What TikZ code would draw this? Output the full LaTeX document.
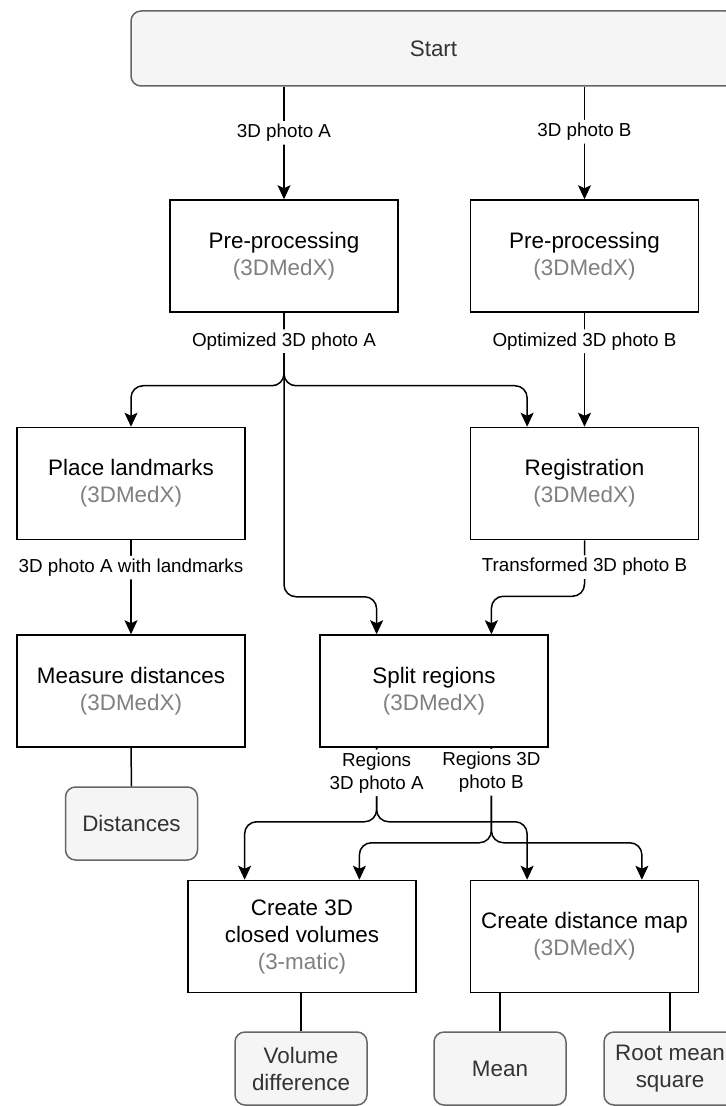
\documentclass[tikz,border=0pt]{standalone}
\usepackage{fontspec}
\setmainfont{Liberation Sans}
\usepackage{xcolor}
\usetikzlibrary{arrows.meta, positioning, calc}
\definecolor{flowgray}{HTML}{666666}
\definecolor{flowfill}{HTML}{F5F5F5}
\definecolor{flowtext}{HTML}{333333}
\definecolor{toolgray}{HTML}{808080}
\newcommand{\toolname}[1]{\textcolor{toolgray}{(#1)}}

\begin{document}
\begin{tikzpicture}[
  x=0.5pt, y=-0.5pt,
  every node/.style={font=\fontsize{11.2}{13.5}\selectfont},
  procbox/.style={rectangle, draw=black, line width=0.75pt, fill=white, minimum width=114pt, minimum height=56pt, align=center, inner sep=2pt},
  endbox/.style={rectangle, rounded corners=5pt, draw=flowgray, fill=flowfill, line width=0.75pt, minimum width=66pt, minimum height=36.5pt, align=center, text=flowtext, inner sep=2pt},
  flowarrow/.style={-{Stealth[length=7pt, width=6.5pt, inset=1.5pt]}, line width=0.75pt, rounded corners=6pt},
  flowline/.style={line width=0.75pt},
  edgelabel/.style={fill=white, inner sep=1.5pt, font=\fontsize{9.4}{11.5}\selectfont, align=center},
]
\useasboundingbox (0,0) rectangle (725,1106);

% Start
\node[endbox, minimum width=302.5pt, minimum height=37.5pt] (start) at (433.5, 48.5) {Start};

% Pre-processing
\node[procbox] (preA) at (284, 256) {Pre-processing\\\toolname{3DMedX}};
\node[procbox] (preB) at (584.5, 256) {Pre-processing\\\toolname{3DMedX}};

% Landmarks and registration
\node[procbox] (land) at (131, 483.5) {Place landmarks\\\toolname{3DMedX}};
\node[procbox] (reg) at (584.5, 483.5) {Registration\\\toolname{3DMedX}};

% Measuring and splitting
\node[procbox] (meas) at (131, 691) {Measure distances\\\toolname{3DMedX}};
\node[procbox] (split) at (434, 691) {Split regions\\\toolname{3DMedX}};
\node[endbox] (dist) at (131.5, 823.5) {Distances};

% Volumes and distance map
\node[procbox] (vol) at (302, 936.5) {Create 3D\\closed volumes\\\toolname{3-matic}};
\node[procbox] (dmap) at (584.5, 936.5) {Create distance map\\\toolname{3DMedX}};

% Results
\node[endbox] (voldiff) at (301, 1068.5) {Volume\\difference};
\node[endbox] (mean) at (500, 1068.5) {Mean};
\node[endbox] (rms) at (670, 1068.5) {Root mean\\square};

% Start to pre-processing
\draw[flowarrow] (preA |- start.south) -- node[edgelabel, pos=0.41]{3D photo A} (preA.north);
\draw[flowarrow] (preB |- start.south) -- node[edgelabel, pos=0.4]{3D photo B} (preB.north);

% Optimized photo A
\draw[flowarrow] (preA.south) -- ++(0,73) -| (land.north);
\draw[flowarrow] (preA.south) -- ++(0,73) -| ($(reg.north)!0.5!(reg.north west)$);
\draw[flowarrow] (preA.south) -- ++(0,284) node[edgelabel, pos=0.1]{Optimized 3D photo A} -| ($(split.north)!0.5!(split.north west)$);

% Optimized photo B
\draw[flowarrow] (preB.south) -- node[edgelabel, pos=0.25]{Optimized 3D photo B} (preB.south |- reg.north);

\draw[flowarrow] (land.south) -- node[edgelabel, pos=0.29]{3D photo A with landmarks} (meas.north);
\draw[flowarrow] (reg.south) -- ++(0,56) node[edgelabel, pos=0.48]{Transformed 3D photo B} -| ($(split.north)!0.5!(split.north east)$);

% Regions
\coordinate (splitA) at ($(split.south)!0.5!(split.south west)$);
\coordinate (splitB) at ($(split.south)!0.5!(split.south east)$);
\draw[flowarrow] (splitA) -- ++(0,74) -| ($(vol.north)!0.5!(vol.north west)$);
\draw[flowarrow] (splitA) -- ++(0,74) node[edgelabel, pos=0.34]{Regions\\3D photo A} -| ($(dmap.north)!0.5!(dmap.north west)$);
\draw[flowarrow] (splitB) -- ++(0,95) -| ($(vol.north)!0.5!(vol.north east)$);
\draw[flowarrow] (splitB) -- ++(0,95) node[edgelabel, pos=0.26]{Regions 3D\\photo B} -| ($(dmap.north)!0.5!(dmap.north east)$);

% Results
\draw[flowline] (meas.south) -- (dist.north);
\draw[flowline] (voldiff.north |- vol.south) -- (voldiff.north);
\draw[flowline] (mean.north |- dmap.south) -- (mean.north);
\draw[flowline] (rms.north |- dmap.south) -- (rms.north);

\end{tikzpicture}
\end{document}
